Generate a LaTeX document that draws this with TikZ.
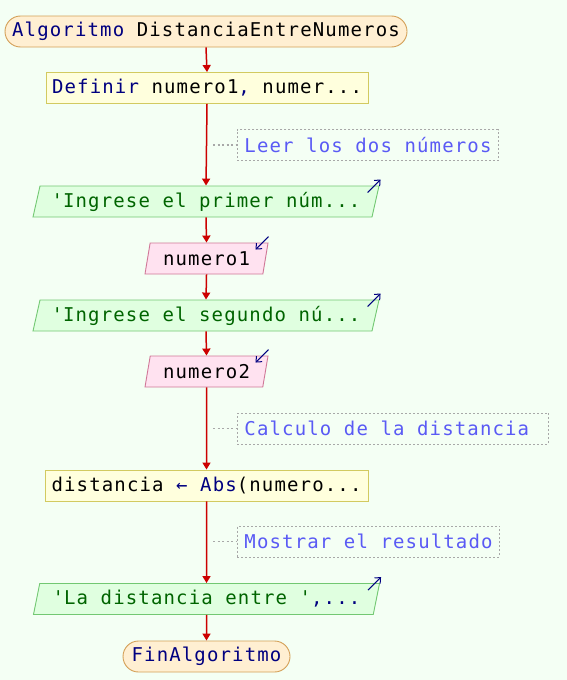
\documentclass[tikz,border=0pt]{standalone}
\usepackage{fontspec}
\setmainfont{DejaVu Sans Mono}[LetterSpace=6]
\usetikzlibrary{arrows.meta,shapes.geometric,calc}
\definecolor{bg}{HTML}{F4FFF4}
\definecolor{kw}{HTML}{000080}
\definecolor{str}{HTML}{006400}
\definecolor{cmt}{HTML}{5A5AF5}
\definecolor{flow}{HTML}{CC0000}
\definecolor{termfill}{HTML}{FFEFD2}
\definecolor{termline}{HTML}{D4A058}
\definecolor{procfill}{HTML}{FFFFDD}
\definecolor{procline}{HTML}{D2CA60}
\definecolor{iofill}{HTML}{E0FFE0}
\definecolor{ioline}{HTML}{72C872}
\definecolor{readfill}{HTML}{FFE2F0}
\definecolor{readline}{HTML}{D07898}
\definecolor{dotline}{HTML}{A8A8A8}
\tikzset{
  every node/.style={font=\fontsize{19}{24}\selectfont, inner sep=0pt},
  terminal/.style={draw=termline, fill=termfill, line width=0.9pt,
    rounded corners=15.5pt, minimum height=31pt},
  process/.style={draw=procline, fill=procfill, line width=0.9pt,
    minimum height=31pt},
  para/.style={trapezium, trapezium left angle=70, trapezium right angle=110,
    trapezium stretches body, line width=0.9pt, minimum height=31pt},
  writebox/.style={para, draw=ioline, fill=iofill, minimum width=346pt},
  readbox/.style={para, draw=readline, fill=readfill, minimum width=123pt},
  note/.style={draw=dotline, dash pattern=on 2pt off 2pt, line width=0.9pt,
    anchor=west, minimum height=31pt, inner xsep=7pt, text=cmt},
  flowline/.style={draw=flow, line width=1.5pt,
    -{Triangle[length=7pt,width=8pt]}},
  noteline/.style={draw=dotline, dash pattern=on 2pt off 2.5pt, line width=1.3pt},
  ioicon/.style={draw=kw, line width=1pt, -{Straight Barb[length=4.5pt,width=8pt]}}
}
\begin{document}
\begin{tikzpicture}[x=1pt,y=-1pt]
  \fill[bg] (0,0) rectangle (567,680);
  \useasboundingbox (0,0) rectangle (567,680);

  % flowchart blocks
  \node[terminal, minimum width=402pt] (start) at (206,31.5)
    {\textcolor{kw}{Algoritmo} DistanciaEntreNumeros};
  \node[process, minimum width=322pt] (def) at (207,88)
    {\textcolor{kw}{Definir} numero1\textcolor{kw}{,} numer...};
  \node[writebox] (w1) at (206,201.5)
    {\textcolor{str}{\textquotesingle Ingrese el primer núm...}};
  \node[readbox] (r1) at (206.5,258.5) {numero1};
  \node[writebox] (w2) at (206,315.5)
    {\textcolor{str}{\textquotesingle Ingrese el segundo nú...}};
  \node[readbox] (r2) at (206.5,371.5) {numero2};
  \node[process, minimum width=323pt] (calc) at (206.5,485.5)
    {distancia \textcolor{kw}{←} \textcolor{kw}{Abs}(numero...};
  \node[writebox] (w3) at (206.5,599)
    {\textcolor{str}{\textquotesingle La distancia entre \textquotesingle}\textcolor{kw}{,...}};
  \node[terminal, minimum width=167pt] (stop) at (206.5,656.5)
    {\textcolor{kw}{FinAlgoritmo}};

  % comments
  \node[note] (n1) at (237,145) {Leer los dos números};
  \node[note] (n2) at (237,428.5) {Calculo de la distancia\kern12.3pt};
  \node[note] (n3) at (237,541.5) {Mostrar el resultado};
  \coordinate (c1) at (213,145);
  \coordinate (c2) at (213,428.5);
  \coordinate (c3) at (213,541.5);
  \draw[noteline] (c1) -- (n1.west);
  \draw[noteline] (c2) -- (n2.west);
  \draw[noteline] (c3) -- (n3.west);

  % flow connectors
  \draw[flowline] (start.south) -- (def.north);
  \draw[flowline] (def.south) -- (w1.north);
  \draw[flowline] (w1.south) -- (r1.north);
  \draw[flowline] (r1.south) -- (w2.north);
  \draw[flowline] (w2.south) -- (r2.north);
  \draw[flowline] (r2.south) -- (calc.north);
  \draw[flowline] (calc.south) -- (w3.north);
  \draw[flowline] (w3.south) -- (stop.north);

  % input / output markers
  \foreach \n in {w1,w2,w3}
    \draw[ioicon] ($(\n.top right corner)+(-12,7)$) -- ($(\n.top right corner)+(1,-6)$);
  \foreach \n in {r1,r2}
    \draw[ioicon] ($(\n.top right corner)+(0,-6)$) -- ($(\n.top right corner)+(-13,7)$);
\end{tikzpicture}
\end{document}
